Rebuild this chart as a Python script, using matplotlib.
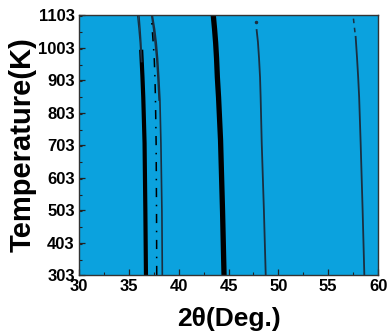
import matplotlib
matplotlib.use("Agg")
import matplotlib.pyplot as plt
from matplotlib.ticker import MultipleLocator

plt.rcParams["font.family"] = ["Liberation Sans", "DejaVu Sans"]
plt.rcParams["font.weight"] = "bold"

# peak positions (2theta), per temperature
p1_T = [303, 500, 709, 850, 912, 990]
p1_x = [36.72, 36.66, 36.58, 36.45, 36.37, 36.25]
p1_top_T = [960, 1017, 1060, 1103]
p1_top_a = [36.26, 36.14, 36.02, 35.88]
p1_top_b = [36.30, 36.22, 36.13, 36.02]

p2_T = [303, 500, 709, 841, 912, 970, 1017, 1060, 1103]
p2_x = [38.36, 38.32, 38.22, 38.12, 38.00, 37.88, 37.75, 37.58, 37.35]
p2_top_T = [841, 912, 970, 1017, 1060, 1103]
p2_top_x = [38.03, 37.91, 37.79, 37.64, 37.48, 37.28]

p2d_T = [303, 500, 709, 850, 912, 970, 1017, 1100]
p2d_x = [37.80, 37.78, 37.74, 37.67, 37.62, 37.55, 37.45, 37.25]

p3_T = [303, 500, 718, 850, 912, 970, 1017, 1060, 1103]
p3_x = [44.55, 44.40, 44.20, 44.00, 43.88, 43.80, 43.71, 43.60, 43.47]

p4_T = [303, 500, 709, 850, 912, 970, 1020, 1057]
p4_x = [48.73, 48.55, 48.33, 48.22, 48.16, 48.06, 47.95, 47.82]

p5_T = [303, 500, 709, 850, 912, 970, 1036]
p5_x = [58.62, 58.45, 58.25, 58.10, 58.00, 57.89, 57.75]
p5_top_T = [1050, 1094]
p5_top_x = [57.68, 57.52]

edge = "#1b2f40"

fig = plt.figure(figsize=(3.87, 3.35), dpi=100)
ax = fig.add_axes([0.204, 0.179, 0.773, 0.776])
ax.set_facecolor("#0ba2de")

ax.plot(p1_x, p1_T, color="black", lw=3.0)
ax.plot(p1_top_a, p1_top_T, color=edge, lw=1.0)
ax.plot(p1_top_b, p1_top_T, color=edge, lw=1.0)
ax.plot(p2_x, p2_T, color=edge, lw=1.2)
ax.plot(p2_top_x, p2_top_T, color=edge, lw=1.0)
ax.plot(p2d_x, p2d_T, color="black", lw=1.1, ls=(0, (6, 5, 1, 5)))
ax.plot(p3_x, p3_T, color="black", lw=3.8)
ax.plot(p4_x, p4_T, color=edge, lw=1.3)
ax.plot([47.8], [1082], marker="o", ms=1.5, color=edge)
ax.plot(p5_x, p5_T, color=edge, lw=1.3)
ax.plot(p5_top_x, p5_top_T, color=edge, lw=1.1, ls=(0, (3, 3)))

ax.set_xlim(30, 60)
ax.set_ylim(303, 1103)
ax.xaxis.set_major_locator(MultipleLocator(5))
ax.xaxis.set_minor_locator(MultipleLocator(2.5))
ax.set_yticks(range(303, 1104, 100))
ax.yaxis.set_minor_locator(MultipleLocator(50))
ax.yaxis.set_minor_formatter(plt.NullFormatter())
ax.tick_params(which="both", direction="in", top=False, right=False,
               labelsize=12, colors="#222222", labelcolor="black")
ax.tick_params(which="major", length=4, width=0.9, pad=3)
ax.tick_params(which="minor", length=2.5, width=0.8)
for lab in ax.get_xticklabels() + ax.get_yticklabels():
    lab.set_fontweight("bold")
for s in ax.spines.values():
    s.set_color("#333333")
    s.set_linewidth(1.0)

ax.set_xlabel("2θ(Deg.)", fontsize=19, fontweight="bold", labelpad=9)
ax.set_ylabel("Temperature(K)", fontsize=21, fontweight="bold", labelpad=1)

fig.savefig("out.png", dpi=100)
